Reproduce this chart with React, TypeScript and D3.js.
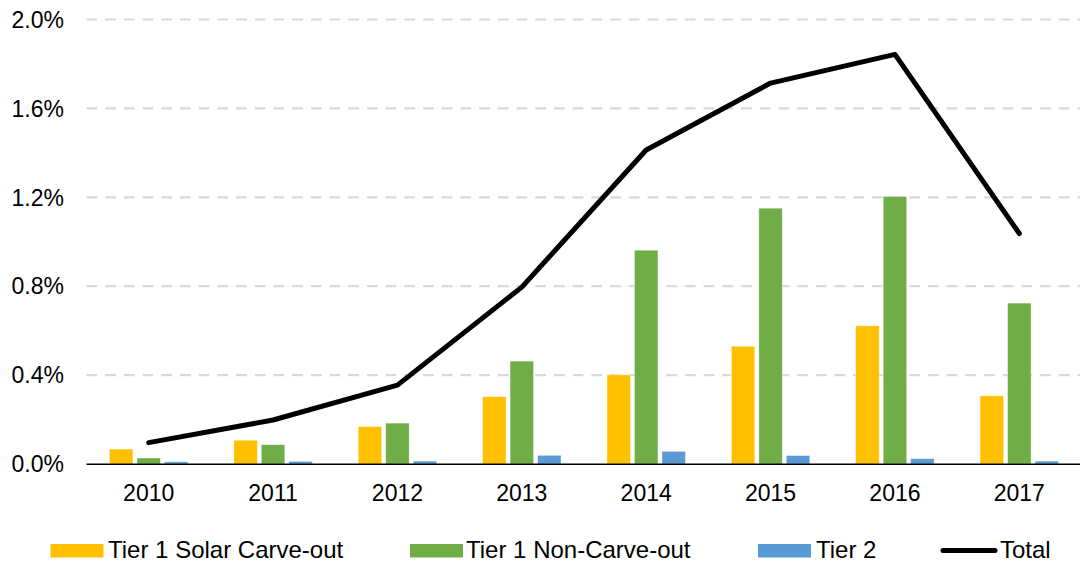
import React from "react";
import * as d3 from "d3";

const years = ["2010", "2011", "2012", "2013", "2014", "2015", "2016", "2017"];
const solarCarveOut = [0.067, 0.107, 0.168, 0.303, 0.401, 0.53, 0.622, 0.307];
const nonCarveOut = [0.027, 0.087, 0.184, 0.463, 0.962, 1.151, 1.204, 0.724];
const tier2 = [0.01, 0.012, 0.013, 0.039, 0.057, 0.038, 0.024, 0.013];
const total = [0.096, 0.198, 0.355, 0.796, 1.413, 1.714, 1.843, 1.037];
const yTicks = [0, 0.4, 0.8, 1.2, 1.6, 2.0];

const seriesNames = ["Tier 1 Solar Carve-out", "Tier 1 Non-Carve-out", "Tier 2"];
const seriesColors = ["#FFC000", "#70AD47", "#5B9BD5"];
const seriesValues = [solarCarveOut, nonCarveOut, tier2];

const W = 1080;
const H = 564;
const FONT = "'Liberation Sans', Arial, sans-serif";

export default function App() {
  const x0 = d3.scaleBand<string>().domain(years).range([86.5, 1081.5]).paddingInner(0).paddingOuter(0);
  const x1 = d3
    .scaleBand<string>()
    .domain(seriesNames)
    .range([0, x0.bandwidth()])
    .paddingInner(0.1455)
    .paddingOuter(0.835);
  const y = d3.scaleLinear().domain([0, 2.0]).range([464, 19.5]);

  const line = d3
    .line<number>()
    .x((_, i) => (x0(years[i]) as number) + x0.bandwidth() / 2)
    .y((d) => y(d));

  const legendItems = [
    { name: seriesNames[0], color: seriesColors[0], sx: 50.5, tx: 108 },
    { name: seriesNames[1], color: seriesColors[1], sx: 410, tx: 466 },
    { name: seriesNames[2], color: seriesColors[2], sx: 758, tx: 816 },
  ];

  return (
    <svg
      width={W}
      height={H}
      style={{ position: "absolute", left: 0, top: 0, background: "#fff" }}
      fontFamily={FONT}
    >
      <rect x={0} y={0} width={W} height={H} fill="#fff" />
      {yTicks.slice(1).map((t) => (
        <line
          key={"g" + t}
          x1={86.5}
          x2={1081}
          y1={y(t)}
          y2={y(t)}
          stroke="#D9D9D9"
          strokeWidth={2.2}
          strokeDasharray="10.7 8"
        />
      ))}
      {yTicks.map((t) => (
        <text
          key={"t" + t}
          x={64}
          y={y(t)}
          dy="0.36em"
          textAnchor="end"
          fontSize={23}
          fill="#000"
        >
          {t.toFixed(1) + "%"}
        </text>
      ))}
      {years.map((yr, i) => (
        <g key={yr} transform={`translate(${x0(yr)},0)`}>
          {seriesNames.map((s, j) => {
            const v = seriesValues[j][i];
            return (
              <rect
                key={s}
                x={x1(s)}
                y={y(v)}
                width={x1.bandwidth()}
                height={y(0) - y(v)}
                fill={seriesColors[j]}
                stroke="#fff"
                strokeOpacity={0.5}
                strokeWidth={0.8}
              />
            );
          })}
        </g>
      ))}
      <line x1={86.5} x2={1081} y1={464.3} y2={464.3} stroke="#000" strokeWidth={1.6} />
      {years.map((yr) => (
        <text
          key={"x" + yr}
          x={(x0(yr) as number) + x0.bandwidth() / 2}
          y={501}
          textAnchor="middle"
          fontSize={23}
          fill="#000"
        >
          {yr}
        </text>
      ))}
      <path
        d={line(total) || ""}
        fill="none"
        stroke="#000"
        strokeWidth={5}
        strokeLinejoin="round"
        strokeLinecap="round"
      />
      {legendItems.map((it) => (
        <g key={it.name}>
          <rect x={it.sx} y={544} width={53} height={13.5} fill={it.color} />
          <text x={it.tx} y={558} fontSize={24} fill="#000">
            {it.name}
          </text>
        </g>
      ))}
      <line x1={943} x2={995} y1={550.5} y2={550.5} stroke="#000" strokeWidth={5} strokeLinecap="round" />
      <text x={1000} y={558} fontSize={24} fill="#000">
        Total
      </text>
    </svg>
  );
}
